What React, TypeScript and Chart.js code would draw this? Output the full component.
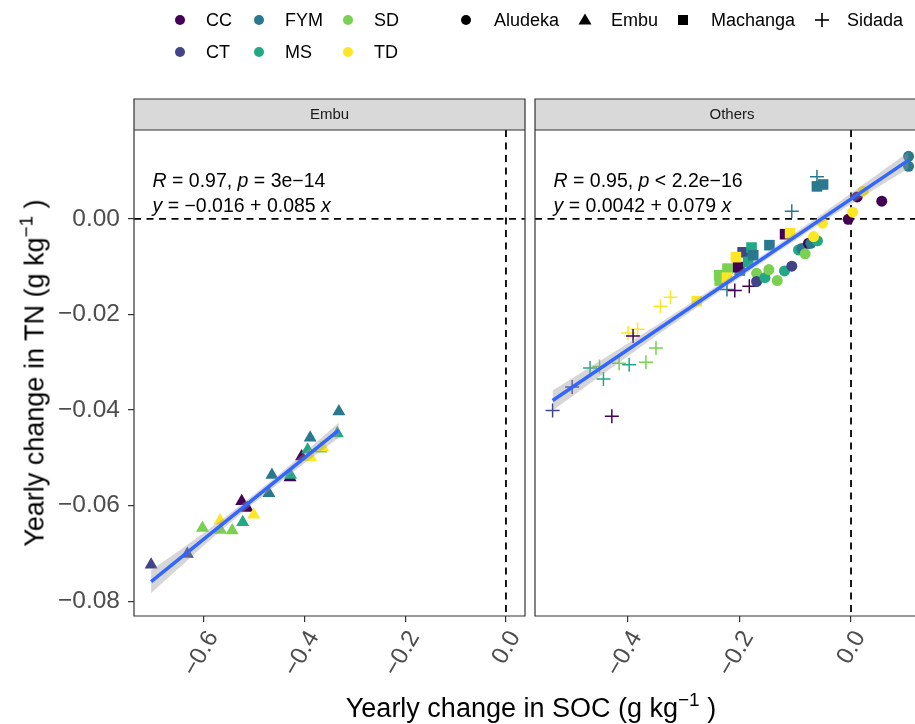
import React, { useEffect, useRef } from 'react';
import { Chart, registerables } from 'chart.js';
Chart.register(...registerables);

// ---------------- data ----------------
const TREATMENTS = ['CC', 'CT', 'FYM', 'MS', 'SD', 'TD'];
const TRT_COLORS = ['#440154', '#414487', '#2A788E', '#22A884', '#7AD151', '#FDE725'];
const SITES = ['Aludeka', 'Embu', 'Machanga', 'Sidada'];
const PANELS = ['Embu', 'Others'];

// Embu panel (triangles)
const embuSOC = [-0.705, -0.633, -0.603, -0.568, -0.567, -0.544, -0.523, -0.525, -0.514, -0.501, -0.471, -0.465, -0.429, -0.428, -0.406, -0.394, -0.388, -0.389, -0.368, -0.364, -0.335, -0.332];
const embuTN = [-0.0724, -0.0701, -0.0647, -0.0631, -0.0651, -0.0652, -0.0635, -0.0591, -0.0605, -0.0619, -0.0574, -0.0536, -0.0541, -0.0536, -0.0497, -0.0483, -0.0499, -0.0458, -0.0481, -0.0478, -0.0449, -0.0403];
const embuTrt = ['CT', 'CT', 'SD', 'TD', 'SD', 'SD', 'MS', 'CC', 'CC', 'TD', 'FYM', 'FYM', 'CC', 'MS', 'CC', 'MS', 'TD', 'FYM', 'SD', 'TD', 'MS', 'FYM'];

// Others panel: Aludeka (circles)
const aludekaSOC = [-0.169, -0.169, -0.154, -0.147, -0.132, -0.119, -0.106, -0.094, -0.088, -0.082, -0.076, -0.072, -0.060, -0.067, -0.051, -0.005, 0.003, 0.011, 0.022, 0.055, 0.103, 0.103];
const aludekaTN = [-0.0114, -0.0131, -0.0123, -0.0106, -0.0129, -0.0109, -0.0099, -0.0065, -0.0062, -0.0073, -0.0051, -0.0051, -0.0046, -0.0037, -0.0009, -0.0001, 0.0014, 0.0046, 0.0058, 0.0037, 0.0131, 0.0110];
const aludekaTrt = ['SD', 'CT', 'MS', 'SD', 'SD', 'MS', 'CT', 'MS', 'FYM', 'SD', 'CC', 'FYM', 'MS', 'TD', 'TD', 'CC', 'TD', 'CC', 'TD', 'CC', 'FYM', 'FYM'];

// Others panel: Machanga (squares)
const machangaSOC = [-0.276, -0.236, -0.235, -0.221, -0.222, -0.199, -0.202, -0.194, -0.206, -0.178, -0.184, -0.175, -0.146, -0.118, -0.109, -0.061, -0.050];
const machangaTN = [-0.0172, -0.0118, -0.0129, -0.0104, -0.0123, -0.0108, -0.0101, -0.0070, -0.0080, -0.0060, -0.0090, -0.0076, -0.0055, -0.0032, -0.0030, 0.0068, 0.0072];
const machangaTrt = ['TD', 'SD', 'SD', 'SD', 'TD', 'FYM', 'CC', 'CT', 'TD', 'MS', 'MS', 'FYM', 'FYM', 'CC', 'TD', 'FYM', 'FYM'];

// Others panel: Sidada (crosses)
const sidadaSOC = [-0.534, -0.499, -0.428, -0.467, -0.450, -0.443, -0.415, -0.397, -0.367, -0.349, -0.399, -0.382, -0.390, -0.341, -0.323, -0.222, -0.208, -0.182, -0.061, -0.106];
const sidadaTN = [-0.0401, -0.0352, -0.0413, -0.0312, -0.0309, -0.0335, -0.0302, -0.0305, -0.0300, -0.0270, -0.0239, -0.0231, -0.0245, -0.0183, -0.0164, -0.0148, -0.0150, -0.0141, 0.0088, 0.0016];
const sidadaTrt = ['CT', 'CT', 'CC', 'MS', 'SD', 'MS', 'SD', 'MS', 'SD', 'SD', 'TD', 'TD', 'CC', 'TD', 'TD', 'FYM', 'CC', 'CC', 'FYM', 'FYM'];

// Linear fits and confidence bands
const embuFitX = [-0.705, -0.332];
const embuFitY = [-0.0759, -0.0442];
const embuBandX = [-0.705, -0.65, -0.60, -0.55, -0.50, -0.45, -0.40, -0.332];
const embuBandHi = [-0.0735, -0.0695, -0.0657, -0.0618, -0.0576, -0.0534, -0.0489, -0.0426];
const embuBandLo = [-0.0783, -0.0731, -0.0683, -0.0638, -0.0594, -0.0552, -0.0511, -0.0458];

const othersFitX = [-0.534, 0.103];
const othersFitY = [-0.0380, 0.0123];
const othersBandX = [-0.534, -0.45, -0.35, -0.25, -0.15, -0.05, 0.03, 0.103];
const othersBandHi = [-0.0359, -0.0298, -0.0224, -0.0148, -0.0070, 0.0012, 0.0079, 0.0140];
const othersBandLo = [-0.0401, -0.0330, -0.0246, -0.0164, -0.0084, -0.0006, 0.0053, 0.0106];

// Stats labels (text, italic)
const embuStat: [string, boolean][] = [['R', true], [' = 0.97, ', false], ['p', true], [' = 3e\u221214', false]];
const embuEq: [string, boolean][] = [['y', true], [' = \u22120.016 + 0.085 ', false], ['x', true]];
const othersStat: [string, boolean][] = [['R', true], [' = 0.95, ', false], ['p', true], [' < 2.2e\u221216', false]];
const othersEq: [string, boolean][] = [['y', true], [' = 0.0042 + 0.079 ', false], ['x', true]];

// Axes
const Y_MIN = -0.0831;
const Y_MAX = 0.0186;
const yTicks = [0, -0.02, -0.04, -0.06, -0.08];
const yTickLabels = ['0.00', '\u22120.02', '\u22120.04', '\u22120.06', '\u22120.08'];
const embuXMin = -0.739;
const embuXMax = 0.0378;
const embuXTicks = [-0.6, -0.4, -0.2, 0];
const embuXTickLabels = ['\u22120.6', '\u22120.4', '\u22120.2', '0.0'];
const othersXMin = -0.5655;
const othersXMax = 0.1145; // visible (cropped) limit
const othersXMaxFull = 0.1395; // panel's full limit (beyond crop)
const othersXTicks = [-0.4, -0.2, 0];
const othersXTickLabels = ['\u22120.4', '\u22120.2', '0.0'];

// ---------------- helpers ----------------
const FONT = "'Liberation Sans', Arial, Helvetica, sans-serif";
const colorOf = (t: string) => TRT_COLORS[TREATMENTS.indexOf(t)];
const pts = (xs: number[], ys: number[]) => xs.map((x, i) => ({ x, y: ys[i] }));

function pointSet(xs: number[], ys: number[], trts: string[], style: string, radius: number, cross = false) {
  const colors = trts.map(colorOf);
  return {
    type: 'scatter',
    data: pts(xs, ys),
    pointStyle: style,
    pointRadius: radius,
    pointBackgroundColor: colors,
    pointBorderColor: colors,
    pointBorderWidth: cross ? 1.5 : 0,
    showLine: false,
    order: 3,
  };
}

function bandSets(xs: number[], hi: number[], lo: number[]) {
  const common = {
    type: 'line',
    borderColor: 'rgba(0,0,0,0)',
    borderWidth: 0,
    pointRadius: 0,
    tension: 0,
    showLine: true,
    order: 2,
  };
  return [
    { ...common, data: pts(xs, hi), fill: '+1', backgroundColor: 'rgba(153,153,153,0.4)' },
    { ...common, data: pts(xs, lo), fill: false, backgroundColor: 'rgba(0,0,0,0)' },
  ];
}

function fitSet(xs: number[], ys: number[]) {
  return {
    type: 'line',
    data: pts(xs, ys),
    borderColor: '#3366FF',
    borderWidth: 3.5,
    pointRadius: 0,
    fill: false,
    showLine: true,
    tension: 0,
    order: 1,
  };
}

function drawSegments(ctx: CanvasRenderingContext2D, segs: [string, boolean][], x: number, y: number, size: number) {
  let cx = x;
  ctx.textBaseline = 'middle';
  ctx.textAlign = 'left';
  ctx.fillStyle = '#000';
  for (const [t, it] of segs) {
    ctx.font = `${it ? 'italic ' : ''}${size}px ${FONT}`;
    ctx.fillText(t, cx, y);
    cx += ctx.measureText(t).width;
  }
}

const panelPlugin = {
  id: 'panel',
  beforeDatasetsDraw(chart: any) {
    const { ctx, chartArea: a, scales } = chart;
    const y0 = scales.y.getPixelForValue(0);
    const x0 = scales.x.getPixelForValue(0);
    ctx.save();
    ctx.beginPath();
    ctx.rect(a.left, a.top, a.right - a.left, a.bottom - a.top);
    ctx.clip();
    ctx.strokeStyle = '#000';
    ctx.lineWidth = 1.8;
    ctx.setLineDash([7, 5.5]);
    ctx.beginPath();
    ctx.moveTo(a.left, y0);
    ctx.lineTo(a.right, y0);
    ctx.stroke();
    ctx.beginPath();
    ctx.moveTo(x0, a.top);
    ctx.lineTo(x0, a.bottom);
    ctx.stroke();
    ctx.restore();
  },
  afterDraw(chart: any, _args: any, opts: any) {
    const { ctx, chartArea: a, scales } = chart;
    ctx.save();
    // annotations
    drawSegments(ctx, opts.stat, a.left + 18.5, a.top + 52, 19.5);
    drawSegments(ctx, opts.eq, a.left + 18.5, a.top + 77, 19.5);
    // strip
    const fullRight = scales.x.getPixelForValue(opts.fullMax);
    const stripTop = a.top - 31;
    ctx.fillStyle = '#D9D9D9';
    ctx.fillRect(a.left, stripTop, Math.min(fullRight, chart.width + 2) - a.left, 31);
    ctx.strokeStyle = '#333333';
    ctx.lineWidth = 1.2;
    ctx.setLineDash([]);
    ctx.beginPath();
    if (opts.closed) {
      ctx.rect(a.left, stripTop, a.right - a.left, 31);
      ctx.rect(a.left, a.top, a.right - a.left, a.bottom - a.top);
    } else {
      const r = chart.width + 2;
      ctx.moveTo(r, stripTop);
      ctx.lineTo(a.left, stripTop);
      ctx.lineTo(a.left, a.bottom);
      ctx.lineTo(r, a.bottom);
      ctx.moveTo(a.left, a.top);
      ctx.lineTo(r, a.top);
    }
    ctx.stroke();
    ctx.fillStyle = '#1A1A1A';
    ctx.font = `15px ${FONT}`;
    ctx.textAlign = 'center';
    ctx.textBaseline = 'middle';
    ctx.fillText(opts.strip, (a.left + fullRight) / 2, stripTop + 15.5);
    ctx.restore();
  },
};

function makeConfig(p: any) {
  const gridOpts = {
    display: true,
    drawOnChartArea: false,
    drawTicks: true,
    tickLength: 6,
    tickColor: '#333333',
    tickWidth: 1.2,
    color: '#333333',
    lineWidth: 1.2,
  };
  return {
    type: 'scatter',
    data: { datasets: p.datasets },
    options: {
      responsive: false,
      animation: false,
      events: [],
      layout: { padding: p.padding, autoPadding: false },
      plugins: {
        legend: { display: false },
        tooltip: { enabled: false },
        panel: p.panel,
      },
      scales: {
        x: {
          type: 'linear',
          min: p.xMin,
          max: p.xMax,
          afterBuildTicks: (s: any) => {
            s.ticks = p.xTicks.map((v: number) => ({ value: v }));
          },
          afterFit: (s: any) => {
            s.height = 108;
            s.paddingLeft = 0;
            s.paddingRight = 0;
          },
          ticks: {
            autoSkip: false,
            minRotation: 60,
            maxRotation: 60,
            padding: 4,
            labelOffset: 9,
            color: '#4D4D4D',
            font: { family: FONT, size: 24 },
            callback: (_v: any, i: number) => p.xLabels[i],
          },
          grid: gridOpts,
          border: { display: false },
        },
        y: {
          type: 'linear',
          min: Y_MIN,
          max: Y_MAX,
          display: p.showY,
          afterBuildTicks: (s: any) => {
            s.ticks = yTicks.map((v) => ({ value: v }));
          },
          afterFit: (s: any) => {
            s.width = p.showY ? 134 : 0;
            s.paddingTop = 0;
            s.paddingBottom = 0;
          },
          ticks: {
            autoSkip: false,
            padding: 8,
            color: '#4D4D4D',
            font: { family: FONT, size: 24.5 },
            callback: (_v: any, i: number) => yTickLabels[i],
          },
          grid: gridOpts,
          border: { display: false },
        },
      },
    },
    plugins: [panelPlugin],
  };
}

// legend layout
const colorColsX = [180, 259, 348];
const colorRowsY = [20, 52];
const siteSymX = [466, 585, 683, 822];
const siteTextX = [494, 611, 711, 847];

function SiteSymbol({ site }: { site: string }) {
  if (site === 'Aludeka') return <circle cx={8} cy={8} r={5} fill="#000" />;
  if (site === 'Embu') return <polygon points="8,1.5 14.5,12.5 1.5,12.5" fill="#000" />;
  if (site === 'Machanga') return <rect x={3} y={3} width={10} height={10} fill="#000" />;
  return (
    <g stroke="#000" strokeWidth={1.6}>
      <line x1={1} y1={8} x2={15} y2={8} />
      <line x1={8} y1={1} x2={8} y2={15} />
    </g>
  );
}

export default function App() {
  const leftRef = useRef<HTMLCanvasElement>(null);
  const rightRef = useRef<HTMLCanvasElement>(null);

  useEffect(() => {
    const left = new Chart(leftRef.current as any, makeConfig({
      datasets: [
        pointSet(embuSOC, embuTN, embuTrt, 'triangle', 7.5),
        ...bandSets(embuBandX, embuBandHi, embuBandLo),
        fitSet(embuFitX, embuFitY),
      ],
      padding: { top: 130, left: 0, right: 6, bottom: 0 },
      xMin: embuXMin,
      xMax: embuXMax,
      xTicks: embuXTicks,
      xLabels: embuXTickLabels,
      showY: true,
      panel: { stat: embuStat, eq: embuEq, strip: PANELS[0], fullMax: embuXMax, closed: true },
    }) as any);
    const right = new Chart(rightRef.current as any, makeConfig({
      datasets: [
        pointSet(aludekaSOC, aludekaTN, aludekaTrt, 'circle', 5.5),
        pointSet(machangaSOC, machangaTN, machangaTrt, 'rect', 7.5),
        pointSet(sidadaSOC, sidadaTN, sidadaTrt, 'cross', 7, true),
        ...bandSets(othersBandX, othersBandHi, othersBandLo),
        fitSet(othersFitX, othersFitY),
      ],
      padding: { top: 130, left: 5, right: 0, bottom: 0 },
      xMin: othersXMin,
      xMax: othersXMax,
      xTicks: othersXTicks,
      xLabels: othersXTickLabels,
      showY: false,
      panel: { stat: othersStat, eq: othersEq, strip: PANELS[1], fullMax: othersXMaxFull, closed: false },
    }) as any);
    return () => {
      left.destroy();
      right.destroy();
    };
  }, []);

  const txt: React.CSSProperties = {
    position: 'absolute',
    fontSize: 18,
    lineHeight: 1,
    color: '#000',
    transform: 'translateY(-50%)',
    whiteSpace: 'nowrap',
  };

  return (
    <div style={{ position: 'absolute', left: 0, top: 0, width: 915, height: 724, overflow: 'hidden', background: '#fff', fontFamily: FONT }}>
      <canvas ref={leftRef} width={531} height={724} style={{ position: 'absolute', left: 0, top: 0, width: 531, height: 724 }} />
      <canvas ref={rightRef} width={385} height={724} style={{ position: 'absolute', left: 530, top: 0, width: 385, height: 724 }} />

      {/* colour legend */}
      {TREATMENTS.map((t, i) => {
        const cx = colorColsX[Math.floor(i / 2)];
        const cy = colorRowsY[i % 2];
        return (
          <React.Fragment key={t}>
            <svg width={16} height={16} style={{ position: 'absolute', left: cx - 8, top: cy - 8 }}>
              <circle cx={8} cy={8} r={5} fill={TRT_COLORS[i]} />
            </svg>
            <span style={{ ...txt, left: cx + 26, top: cy }}>{t}</span>
          </React.Fragment>
        );
      })}

      {/* shape legend */}
      {SITES.map((s, i) => (
        <React.Fragment key={s}>
          <svg width={16} height={16} style={{ position: 'absolute', left: siteSymX[i] - 8, top: 20 - 8 }}>
            <SiteSymbol site={s} />
          </svg>
          <span style={{ ...txt, left: siteTextX[i], top: 20 }}>{s}</span>
        </React.Fragment>
      ))}

      {/* y title */}
      <div style={{ position: 'absolute', left: 35, top: 373, transform: 'translate(-50%, -50%) rotate(-90deg)', fontSize: 27, lineHeight: 1, whiteSpace: 'nowrap', color: '#000' }}>
        Yearly change in TN (g kg<span style={{ fontSize: 19, position: 'relative', top: -11 }}>{'\u22121'}</span> )
      </div>

      {/* x title */}
      <div style={{ position: 'absolute', left: 531, top: 708, transform: 'translate(-50%, -50%)', fontSize: 27, lineHeight: 1, whiteSpace: 'nowrap', color: '#000' }}>
        Yearly change in SOC (g kg<span style={{ fontSize: 19, position: 'relative', top: -11 }}>{'\u22121'}</span> )
      </div>
    </div>
  );
}
